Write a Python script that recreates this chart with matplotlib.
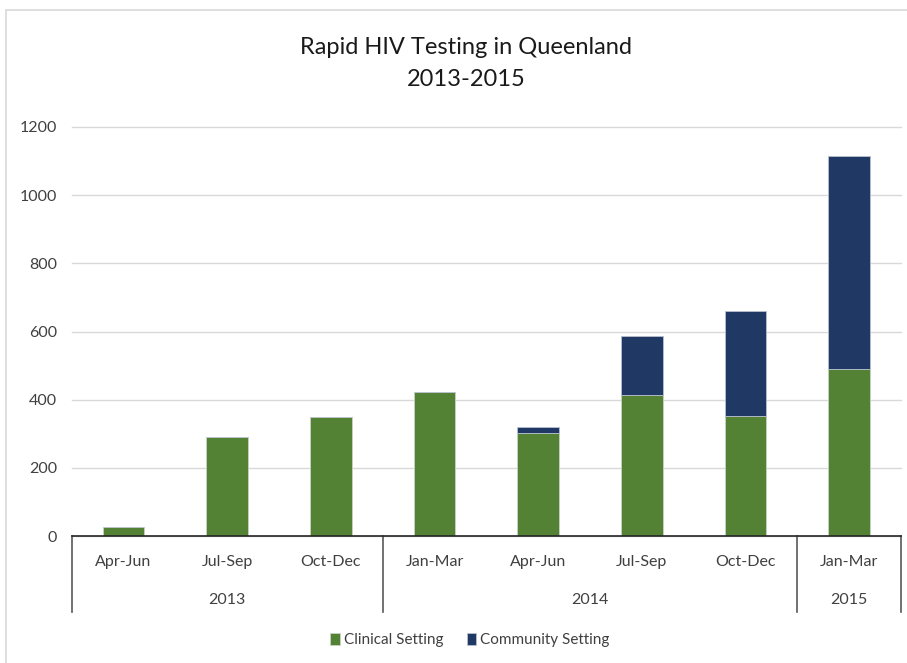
import numpy as np
import matplotlib.pyplot as plt
from matplotlib.patches import Rectangle

# ─── Dados ───────────────────────────────────────────────────────────────────

trimestres = ['Apr-Jun', 'Jul-Sep', 'Oct-Dec', 'Jan-Mar', 'Apr-Jun',
              'Jul-Sep', 'Oct-Dec', 'Jan-Mar']
anos = ['2013', '2014', '2015']
anos_inicio = [0, 3, 7]          # índice do primeiro trimestre de cada ano
anos_fim = [2, 6, 7]             # índice do último trimestre de cada ano

clinico = [26, 290, 349, 422, 301, 415, 352, 491]
comunidade = [0, 0, 0, 0, 19, 172, 308, 624]

titulo = 'Rapid HIV Testing in Queenland'
subtitulo = '2013-2015'
legenda = ['Clinical Setting', 'Community Setting']
yticks = [0, 200, 400, 600, 800, 1000, 1200]

verde = '#548235'
azul = '#203864'
texto = '#404040'
fonte = ['Lato', 'DejaVu Sans']

plt.rcParams['font.family'] = fonte

# ─── Figura ──────────────────────────────────────────────────────────────────

fig = plt.figure(figsize=(9.07, 6.63), dpi=100)
ax = fig.add_axes([71.7 / 907, 1 - 536 / 663, (901 - 71.7) / 907, 409 / 663])

# moldura externa do gráfico
fig.patches.append(Rectangle((6 / 907, -0.05), 1.0, 1 - 10 / 663 + 0.05,
                             transform=fig.transFigure, fill=False,
                             edgecolor='#d9d9d9', linewidth=1.2))

x = np.arange(len(trimestres))
ax.bar(x, clinico, width=0.4, color=verde, edgecolor='#c9d3c2',
       linewidth=0.6, label=legenda[0], zorder=3)
ax.bar(x, comunidade, width=0.4, bottom=clinico, color=azul,
       edgecolor='#b9c0cf', linewidth=0.6, label=legenda[1], zorder=3)

ax.set_xlim(-0.5, len(trimestres) - 0.5)
ax.set_ylim(0, 1200)
ax.set_yticks(yticks)
ax.set_yticklabels([str(v) for v in yticks], fontsize=11.5, color=texto)
ax.tick_params(axis='y', length=0, pad=10.5)
ax.set_xticks([])
ax.grid(axis='y', color='#d9d9d9', linewidth=1.0, zorder=0)
for lado in ['left', 'right', 'top']:
    ax.spines[lado].set_visible(False)
ax.spines['bottom'].set_color('#262626')
ax.spines['bottom'].set_linewidth(1.2)
ax.spines['bottom'].set_zorder(4)
for linha in ax.get_ygridlines():
    linha.set_clip_on(False)

# ─── Eixo de categorias em dois níveis ───────────────────────────────────────

trans = ax.get_xaxis_transform()
fundo = -76 / 409
for i, rot in enumerate(trimestres):
    ax.text(i, -26 / 409, rot, transform=trans, ha='center', va='center',
            fontsize=11.5, color=texto)

for ano, ini, fim in zip(anos, anos_inicio, anos_fim):
    ax.text((ini + fim) / 2, -64 / 409, ano, transform=trans, ha='center',
            va='center', fontsize=11.5, color=texto)

divisorias = [anos_inicio[0] - 0.5] + [f + 0.5 for f in anos_fim]
for d in divisorias:
    ax.plot([d, d], [0, fundo], transform=trans, color='#595959',
            linewidth=1.2, clip_on=False)

# ─── Título e legenda ────────────────────────────────────────────────────────

fig.text(466 / 907, 1 - 47 / 663, titulo, ha='center', va='center',
         fontsize=17, color='#1a1a1a')
fig.text(466 / 907, 1 - 80 / 663, subtitulo, ha='center', va='center',
         fontsize=17, color='#1a1a1a')

fig.legend(loc='center', bbox_to_anchor=(470 / 907, 1 - 640 / 663), ncol=2,
           frameon=False, fontsize=11, handlelength=0.6, handleheight=0.9,
           handletextpad=0.3, columnspacing=1.5, labelcolor=texto)

plt.savefig('out.png', dpi=100)
